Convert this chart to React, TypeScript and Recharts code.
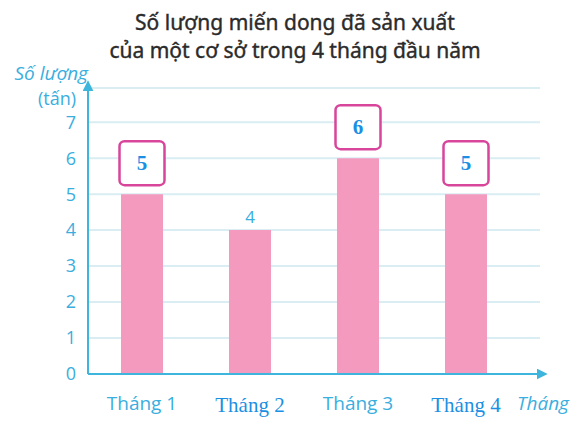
import React, { FC } from 'react';
import { BarChart, Bar, XAxis, YAxis, CartesianGrid, LabelList } from 'recharts';

// chart values
const months = ['Tháng 1', 'Tháng 2', 'Tháng 3', 'Tháng 4'];
const amounts = [5, 4, 6, 5];
const boxedMonths = ['Tháng 1', 'Tháng 3', 'Tháng 4'];
const serifMonths = ['Tháng 2', 'Tháng 4'];
const yTicks = [0, 1, 2, 3, 4, 5, 6, 7];
const titleLines = ['Số lượng miến dong đã sản xuất', 'của một cơ sở trong 4 tháng đầu năm'];

const data = months.map((month, i) => ({ month, amount: amounts[i] }));

const AXIS = '#3db5dc';
const LIGHT_BLUE = '#3aaede';
const DARK_BLUE = '#1a8fe3';
const SANS = '"Open Sans", "Noto Sans", sans-serif';
const SERIF = '"Liberation Serif", "DejaVu Serif", serif';

const MonthTick: FC<any> = (props) => {
    const { x, y, payload } = props;
    const serif = serifMonths.includes(payload.value);
    return (
        <text
            x={x}
            y={y}
            dy={serif ? 16 : 14}
            textAnchor="middle"
            fill={serif ? DARK_BLUE : LIGHT_BLUE}
            fontFamily={serif ? SERIF : SANS}
            fontSize={serif ? 21 : 19}
        >
            {payload.value}
        </text>
    );
};

const ValueLabel: FC<any> = (props) => {
    const { x, y, width, value, index } = props;
    const cx = x + width / 2;
    if (boxedMonths.includes(months[index])) {
        const bottom = y - 9;
        return (
            <g>
                <rect x={cx - 22.5} y={bottom - 44} width={45} height={44} rx={5}
                    fill="#fff" stroke="#d8469c" strokeWidth={2.5} />
                <text x={cx} y={bottom - 15} textAnchor="middle" fill={DARK_BLUE}
                    fontFamily={SERIF} fontWeight="bold" fontSize={21}>
                    {value}
                </text>
            </g>
        );
    }
    return (
        <text x={cx} y={y - 7} textAnchor="middle" fill={LIGHT_BLUE}
            fontFamily={SANS} fontSize={17}>
            {value}
        </text>
    );
};

const YTitle: FC<any> = (props) => {
    const { viewBox } = props;
    const right = viewBox.x + viewBox.width;
    return (
        <g fill={LIGHT_BLUE} fontFamily={SANS}>
            <text x={right} y={viewBox.y - 8} textAnchor="end" fontStyle="italic" fontSize={19}>Số lượng</text>
            <text x={right - 12} y={viewBox.y + 17} textAnchor="end" fontSize={18}>(tấn)</text>
        </g>
    );
};

const XTitle: FC<any> = (props) => {
    const { viewBox } = props;
    return (
        <text x={viewBox.x + viewBox.width - 23} y={viewBox.y + 36} fill={LIGHT_BLUE}
            fontFamily={SANS} fontSize={19} fontStyle="italic">
            Tháng
        </text>
    );
};

const App: FC = () => {
    return (
        <div style={{ position: 'absolute', left: 0, top: 0, width: 585, height: 424, background: '#fff' }}>
            <svg width={0} height={0} style={{ position: 'absolute' }}>
                <defs>
                    <marker id="arrowHead" viewBox="0 0 10 10" refX={3} refY={5}
                        markerUnits="userSpaceOnUse" markerWidth={11} markerHeight={11}
                        orient="auto-start-reverse">
                        <path d="M0,0 L10,5 L0,10 z" fill={AXIS} />
                    </marker>
                </defs>
            </svg>
            <div style={{
                position: 'absolute', left: 0, top: 8, width: 590, textAlign: 'center',
                fontFamily: '"Noto Sans", sans-serif', fontSize: 21, lineHeight: '28px', color: '#2b2b2b',
                WebkitTextStroke: '0.4px #2b2b2b'
            }}>
                {titleLines.map((line) => <div key={line}>{line}</div>)}
            </div>
            <div style={{ position: 'absolute', left: 0, top: 0 }}>
                <BarChart
                    width={585}
                    height={424}
                    data={data}
                    margin={{ top: 88, right: 45, left: 58, bottom: 20 }}
                    barSize={42}
                >
                    <CartesianGrid vertical={false} stroke="#d9edf2" strokeWidth={2} />
                    <XAxis
                        dataKey="month"
                        interval={0}
                        padding={{ left: 0, right: 20 }}
                        height={30}
                        tickLine={false}
                        tickMargin={16}
                        axisLine={{ stroke: AXIS, strokeWidth: 2, markerEnd: 'url(#arrowHead)' }}
                        tick={<MonthTick />}
                        label={<XTitle />}
                    />
                    <YAxis
                        width={30}
                        domain={[0, 7.95]}
                        ticks={yTicks}
                        tickLine={false}
                        tickMargin={6}
                        axisLine={{ stroke: AXIS, strokeWidth: 2, markerStart: 'url(#arrowHead)' }}
                        tick={{ fill: LIGHT_BLUE, fontSize: 18, fontFamily: SANS }}
                        label={<YTitle />}
                    />
                    <Bar dataKey="amount" fill="#f59abf" isAnimationActive={false}>
                        <LabelList dataKey="amount" content={<ValueLabel />} />
                    </Bar>
                </BarChart>
            </div>
        </div>
    );
};

export default App;
